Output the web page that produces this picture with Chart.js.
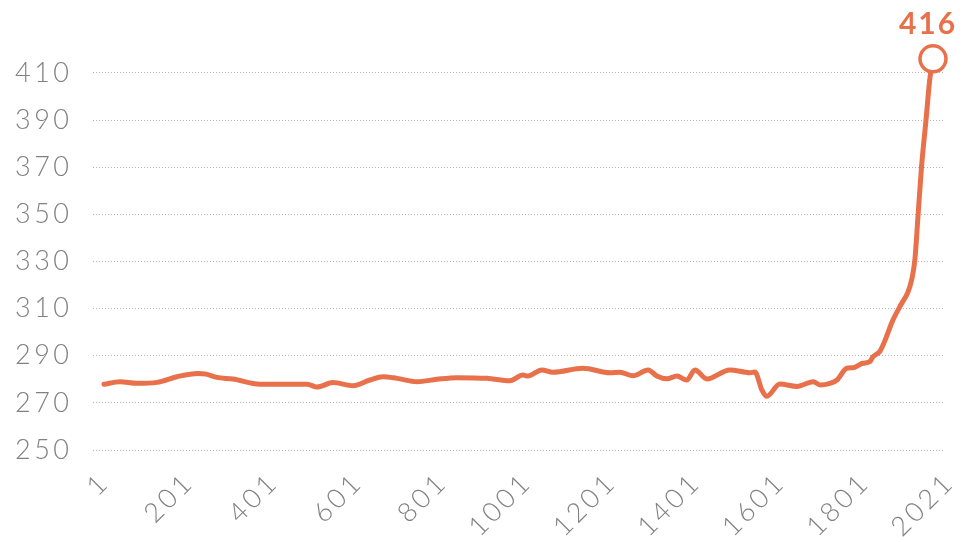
<!DOCTYPE html>
<html>
<head>
<meta charset="utf-8">
<script src="https://cdn.jsdelivr.net/npm/chart.js@4/dist/chart.umd.min.js"></script>
<style>
  html, body { margin: 0; padding: 0; background: #ffffff; }
  #wrap { width: 964px; height: 542px; position: relative; }
</style>
</head>
<body>
<div id="wrap"><canvas id="chart"></canvas></div>
<script>
// Atmospheric CO2 concentration (ppm), year 1 to 2021
const years = [
  1, 40, 81, 130, 179, 230, 250, 276, 315, 381,
  496, 520, 559, 608, 649, 681, 715, 764, 812, 861,
  934, 990, 1022, 1034, 1068, 1095, 1168, 1234, 1258, 1290,
  1327, 1348, 1373, 1397, 1421, 1441, 1470, 1526, 1575, 1587,
  1604, 1616, 1648, 1690, 1729, 1746, 1770, 1787, 1811, 1826,
  1850, 1867, 1875, 1892, 1904, 1923, 1945, 1960, 1970, 1977,
  1984, 1993, 2004, 2013, 2021
];
const co2 = [
  277.9, 279.0, 278.3, 278.7, 281.1, 282.5, 282.2, 280.8, 280.1, 277.9,
  277.9, 276.7, 278.6, 277.3, 279.7, 281.1, 280.4, 279.0, 280.0, 280.7,
  280.4, 279.4, 281.8, 281.4, 284.0, 283.0, 284.7, 282.8, 283.0, 281.5,
  284.0, 281.4, 280.2, 281.4, 279.7, 284.0, 280.1, 284.0, 282.8, 283.1,
  275.5, 272.8, 278.0, 277.0, 279.0, 277.6, 278.3, 279.7, 284.7, 284.9,
  286.8, 287.5, 289.6, 292.0, 296.5, 305.0, 312.3, 317.0, 323.0, 331.0,
  348.0, 370.0, 390.0, 407.0, 416.0
];
const xTickLabels = ['1', '201', '401', '601', '801', '1001', '1201', '1401', '1601', '1801', '2021'];
const yTickValues = [250, 270, 290, 310, 330, 350, 370, 390, 410];

const ORANGE = '#e8714b';
const GREY = '#818185';
const TICK_FONT = { family: 'Lato', size: 27, weight: '300' };

// x-axis range and evenly spread label positions along it
const X_MIN = -25.8, X_MAX = 2045.4;
const LABEL_FIRST = 3.4, LABEL_STEP = 205.9;

const points = years.map((y, i) => ({ x: y, y: co2[i] }));
const last = points.length - 1;

const spacing = {
  id: 'spacing',
  beforeDraw(chart) { chart.ctx.letterSpacing = '3.5px'; }
};

const endLabel = {
  id: 'endLabel',
  afterDatasetsDraw(chart) {
    const pt = chart.getDatasetMeta(0).data[last];
    const ctx = chart.ctx;
    ctx.save();
    ctx.letterSpacing = '2px';
    ctx.font = 'bold 30px Lato';
    ctx.fillStyle = ORANGE;
    ctx.textAlign = 'center';
    ctx.textBaseline = 'alphabetic';
    ctx.fillText(String(co2[last]), pt.x - 5, pt.y - 25);
    ctx.restore();
  }
};

new Chart(document.getElementById('chart'), {
  type: 'line',
  data: {
    datasets: [{
      data: points,
      borderColor: ORANGE,
      borderWidth: 5,
      borderCapStyle: 'round',
      borderJoinStyle: 'round',
      cubicInterpolationMode: 'monotone',
      fill: false,
      clip: false,
      pointRadius: c => (c.dataIndex === last ? 13 : 0),
      pointHoverRadius: c => (c.dataIndex === last ? 13 : 0),
      pointBackgroundColor: '#ffffff',
      pointBorderColor: ORANGE,
      pointBorderWidth: 3.5
    }]
  },
  options: {
    responsive: true,
    maintainAspectRatio: false,
    animation: false,
    events: [],
    layout: { padding: { top: 49.4, left: 15, right: 21, bottom: 0 } },
    plugins: { legend: { display: false }, tooltip: { enabled: false } },
    scales: {
      x: {
        type: 'linear',
        min: X_MIN,
        max: X_MAX,
        grid: { display: false },
        border: { display: false },
        afterBuildTicks: s => {
          s.ticks = xTickLabels.map((t, i) => ({ value: LABEL_FIRST + i * LABEL_STEP }));
        },
        afterFit: s => { s.height = 92; s.paddingLeft = 0; s.paddingRight = 0; },
        ticks: {
          autoSkip: false,
          minRotation: 45,
          maxRotation: 45,
          padding: 8,
          color: GREY,
          font: TICK_FONT,
          callback: (v, i) => xTickLabels[i]
        }
      },
      y: {
        min: 250,
        max: 420,
        afterBuildTicks: s => { s.ticks = yTickValues.map(v => ({ value: v })); },
        afterFit: s => { s.width = 78; },
        grid: { color: '#b4b4b4', lineWidth: 1, drawTicks: false },
        border: { display: false, dash: [1, 2] },
        ticks: {
          crossAlign: 'far',
          padding: 0,
          color: GREY,
          font: TICK_FONT
        }
      }
    }
  },
  plugins: [spacing, endLabel]
});
</script>
</body>
</html>
